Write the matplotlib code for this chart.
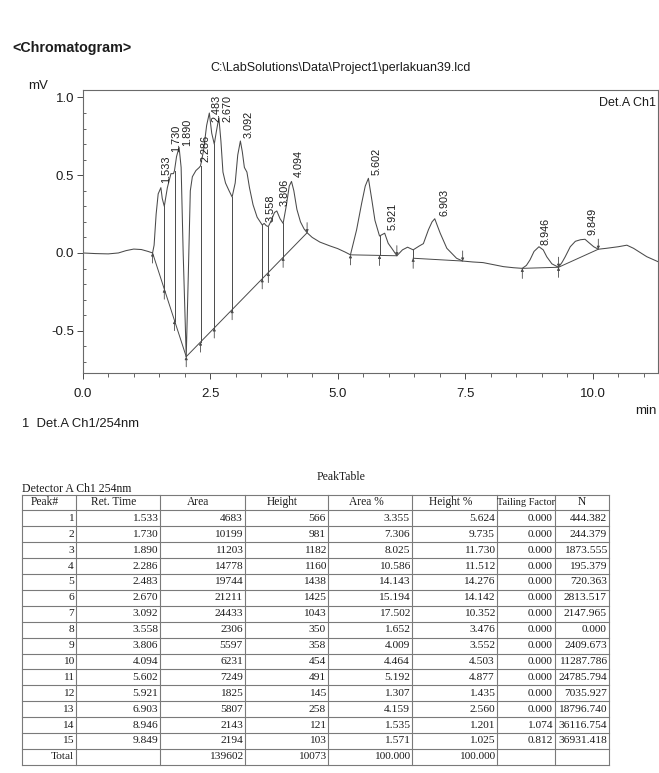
import numpy as np
import matplotlib
matplotlib.use('Agg')
import matplotlib.pyplot as plt

SANS = ['Liberation Sans', 'DejaVu Sans']
SERIF = ['Liberation Serif', 'DejaVu Serif']
INK = '#1c1c1c'
LINE = '#4a4a4a'

# ---- peak table (Detector A Ch1 254nm) ----
peak_no = list(range(1, 16))
ret_time = [1.533, 1.730, 1.890, 2.286, 2.483, 2.670, 3.092, 3.558, 3.806, 4.094,
            5.602, 5.921, 6.903, 8.946, 9.849]
area = [4683, 10199, 11203, 14778, 19744, 21211, 24433, 2306, 5597, 6231,
        7249, 1825, 5807, 2143, 2194]
height = [566, 981, 1182, 1160, 1438, 1425, 1043, 350, 358, 454, 491, 145, 258, 121, 103]
area_pct = [3.355, 7.306, 8.025, 10.586, 14.143, 15.194, 17.502, 1.652, 4.009, 4.464,
            5.192, 1.307, 4.159, 1.535, 1.571]
height_pct = [5.624, 9.735, 11.730, 11.512, 14.276, 14.142, 10.352, 3.476, 3.552, 4.503,
              4.877, 1.435, 2.560, 1.201, 1.025]
tailing = [0.000] * 13 + [1.074, 0.812]
plates = [444.382, 244.379, 1873.555, 195.379, 720.363, 2813.517, 2147.965, 0.000,
          2409.673, 11287.786, 24785.794, 7035.927, 18796.740, 36116.754, 36931.418]
total_area, total_height = 139602, 10073

# ---- detector signal (mV) ----
# signal level at each peak apex
apex_mv = [0.42, 0.51, 0.68, 0.55, 0.90, 0.87, 0.72, 0.19, 0.27, 0.46,
           0.48, 0.127, 0.22, 0.04, 0.088]
# the rest of the trace between apexes
trace_t = [0.00, 0.25, 0.50, 0.70, 0.85, 1.00, 1.15, 1.28, 1.37, 1.40, 1.44, 1.48,
           1.56, 1.60, 1.66, 1.78, 1.80, 1.84, 1.93, 1.97, 2.03, 2.07, 2.11, 2.15,
           2.22, 2.31, 2.37, 2.43, 2.53, 2.58, 2.62, 2.71, 2.75, 2.80, 2.87, 2.93,
           2.99, 3.04, 3.13, 3.17, 3.22, 3.27, 3.34, 3.42, 3.52, 3.60, 3.64, 3.70,
           3.76, 3.87, 3.93, 3.99, 4.05, 4.14, 4.20, 4.27, 4.34, 4.40, 4.50, 4.65,
           4.85, 5.00, 5.15, 5.25, 5.37, 5.47, 5.54, 5.67, 5.73, 5.82, 5.99, 6.06,
           6.16, 6.27, 6.37, 6.48, 6.60, 6.68, 6.78, 6.85, 6.96, 7.01, 7.14, 7.33,
           7.45, 7.65, 7.85, 8.05, 8.25, 8.45, 8.62, 8.70, 8.77, 8.85, 9.03, 9.10,
           9.20, 9.33, 9.40, 9.46, 9.56, 9.66, 9.76, 9.93, 10.02, 10.11, 10.27,
           10.50, 10.67, 10.80, 11.06, 11.28]
trace_mv = [0.000, -0.004, -0.006, 0.000, 0.015, 0.025, 0.022, 0.010, 0.000, 0.05,
            0.25, 0.38, 0.35, 0.30, 0.42, 0.51, 0.53, 0.62, 0.55, 0.00, -0.667, -0.15,
            0.40, 0.49, 0.53, 0.56, 0.66, 0.82, 0.77, 0.70, 0.78, 0.72, 0.52, 0.45,
            0.40, 0.36, 0.45, 0.63, 0.65, 0.55, 0.52, 0.42, 0.31, 0.23, 0.18, 0.175,
            0.17, 0.21, 0.26, 0.22, 0.19, 0.30, 0.43, 0.40, 0.28, 0.20, 0.155, 0.13,
            0.10, 0.07, 0.045, 0.028, 0.005, -0.012, 0.148, 0.32, 0.43, 0.34, 0.21,
            0.109, 0.062, 0.03, -0.018, 0.02, 0.037, 0.02, 0.045, 0.06, 0.15, 0.20,
            0.17, 0.127, 0.03, -0.034, -0.052, -0.058, -0.062, -0.075, -0.088,
            -0.095, -0.099, -0.08, -0.045, 0.01, 0.02, -0.025, -0.07, -0.092, -0.06,
            -0.025, 0.04, 0.075, 0.085, 0.065, 0.04, 0.024, 0.03, 0.04, 0.05, 0.03,
            -0.024, -0.056]

# integration baselines (start, end) as (min, mV)
baselines = [((1.37, 0.000), (2.03, -0.667)),
             ((2.03, -0.667), (4.40, 0.130)),
             ((5.25, -0.012), (6.16, -0.018)),
             ((6.48, -0.034), (7.45, -0.052)),
             ((8.62, -0.099), (9.33, -0.092)),
             ((9.33, -0.092), (10.11, 0.024))]
drop_t = [1.60, 1.80, 2.31, 2.58, 2.93, 3.52, 3.64, 3.93, 5.82, 6.48]
up_marks = [1.37, 1.60, 1.80, 2.03, 2.31, 2.58, 2.93, 3.52, 3.64, 3.93,
            5.25, 5.82, 6.48, 8.62, 9.33]
down_marks = [4.40, 6.16, 7.45, 9.33, 10.11]

# label anchors: (shift right in min, bottom of text in mV)
label_pos = [(0.11, 0.45), (0.11, 0.65), (0.16, 0.69), (0.13, 0.585), (0.14, 0.84),
             (0.17, 0.84), (0.17, 0.74), (0.13, 0.20), (0.16, 0.30), (0.15, 0.49),
             (0.17, 0.50), (0.16, 0.148), (0.19, 0.24), (0.13, 0.05), (0.15, 0.116)]


def baseline_at(x):
    for (x0, y0), (x1, y1) in baselines:
        if x0 <= x <= x1:
            return y0 + (y1 - y0) * (x - x0) / (x1 - x0)
    return None


t = np.concatenate([trace_t, ret_time])
mv = np.concatenate([trace_mv, apex_mv])
order = np.argsort(t)
t, mv = t[order], mv[order]

W, H = 659, 773
fig = plt.figure(figsize=(W / 100, H / 100), dpi=100)


def fx(px):
    return px / W


def fy(py):
    return 1 - py / H


# ---- page text and peak table, drawn in pixel space ----
page = fig.add_axes([0, 0, 1, 1])
page.set_xlim(0, W)
page.set_ylim(H, 0)
page.axis('off')

page.text(12, 48, '<Chromatogram>', family=SANS, weight='bold', fontsize=10.3,
          color=INK, va='center')
page.text(341, 68, 'C:\\LabSolutions\\Data\\Project1\\perlakuan39.lcd', family=SANS,
          fontsize=9, color=INK, ha='center', va='center')
page.text(28, 86, 'mV', family=SANS, fontsize=9.5, color=INK, va='center')
page.text(657, 411, 'min', family=SANS, fontsize=9.5, color=INK, ha='right', va='center')
page.text(22, 424, '1  Det.A Ch1/254nm', family=SANS, fontsize=9.4, color=INK,
          va='center')

page.text(341, 477, 'PeakTable', family=SERIF, fontsize=8.5, color=INK,
          ha='center', va='center')
page.text(22, 489, 'Detector A Ch1 254nm', family=SERIF, fontsize=8.5, color=INK,
          va='center')

col_edges = [22, 76, 160, 245, 328, 412, 497, 555, 609]
headers = ['Peak#', 'Ret. Time', 'Area', 'Height', 'Area %', 'Height %',
           'Tailing Factor', 'N']
row_h = 15.9
top = 494.5
n_rows = len(peak_no) + 2
bottom = top + row_h * n_rows

for i in range(n_rows + 1):
    page.plot([col_edges[0], col_edges[-1]], [top + i * row_h] * 2,
              color='#7a7a7a', lw=0.8)
for x in col_edges:
    page.plot([x, x], [top, bottom], color='#7a7a7a', lw=0.8)

for j, h in enumerate(headers):
    cx = (col_edges[j] + col_edges[j + 1]) / 2 - (4 if j < 6 else 0)
    page.text(cx, top + row_h * 0.5, h, family=SERIF,
              fontsize=7.4 if j == 6 else 8.3, color=INK, ha='center', va='center')

rows = []
for k in range(len(peak_no)):
    rows.append([str(peak_no[k]), f'{ret_time[k]:.3f}', str(area[k]), str(height[k]),
                 f'{area_pct[k]:.3f}', f'{height_pct[k]:.3f}', f'{tailing[k]:.3f}',
                 f'{plates[k]:.3f}'])
rows.append(['Total', '', str(total_area), str(total_height), '100.000', '100.000', '', ''])

for i, row in enumerate(rows):
    cy = top + row_h * (i + 1.5)
    for j, cell in enumerate(row):
        page.text(col_edges[j + 1] - 2, cy, cell, family=SERIF, fontsize=8.2,
                  color=INK, ha='right', va='center')

# ---- chromatogram ----
ax = fig.add_axes([fx(82.7), fy(373), fx(658) - fx(82.7), fy(90) - fy(373)])
ax.set_xlim(0, (658 - 82.7) / 51)
ax.set_ylim(-0.772, 1.048)

ax.plot(t, mv, color=LINE, lw=0.75)

for (x0, y0), (x1, y1) in baselines:
    ax.plot([x0, x1], [y0, y1], color=LINE, lw=0.7)

for x in drop_t:
    ax.plot([x, x], [np.interp(x, t, mv), baseline_at(x)], color=LINE, lw=0.7)

arrow = dict(arrowstyle='-|>', lw=0.6, color=LINE, mutation_scale=4,
             shrinkA=0, shrinkB=0)
for x in up_marks:
    y = baseline_at(x)
    ax.annotate('', xy=(x, y), xytext=(x, y - 0.065), arrowprops=arrow)
for x in down_marks:
    y = min(b[1][1] for b in baselines if abs(b[1][0] - x) < 1e-6)
    ax.annotate('', xy=(x, y), xytext=(x, y + 0.065), arrowprops=arrow)

for rt, (dx, ly) in zip(ret_time, label_pos):
    ax.text(rt + dx, ly, f'{rt:.3f}', rotation=90, family=SANS, fontsize=7.8,
            color=INK, ha='center', va='bottom')

ax.text(0.997, 0.955, 'Det.A Ch1', transform=ax.transAxes, family=SANS, fontsize=9,
        color=INK, ha='right', va='center')

ax.set_xticks(np.arange(0, 11.01, 2.5))
ax.set_xticklabels([f'{v:.1f}' for v in np.arange(0, 11.01, 2.5)])
ax.set_xticks(np.arange(0, 11.3, 0.5), minor=True)
ax.set_yticks([-0.5, 0.0, 0.5, 1.0])
ax.set_yticklabels(['-0.5', '0.0', '0.5', '1.0'])
ax.set_yticks(np.arange(-0.7, 1.01, 0.1), minor=True)

ax.tick_params(axis='x', which='major', direction='out', length=4.5, width=0.7,
               color=LINE, pad=6, labelsize=9.5, labelcolor=INK)
ax.tick_params(axis='x', which='minor', direction='out', length=3, width=0.6, color=LINE)
ax.tick_params(axis='y', which='major', direction='out', length=4, width=0.7,
               color=LINE, pad=2, labelsize=9.5, labelcolor=INK)
ax.tick_params(axis='y', which='minor', direction='in', length=2.5, width=0.6, color=LINE)
for lab in ax.get_xticklabels() + ax.get_yticklabels():
    lab.set_family(SANS)

for s in ax.spines.values():
    s.set_color('#6a6a6a')
    s.set_linewidth(0.8)

fig.savefig('out.png', dpi=100, facecolor='white')
